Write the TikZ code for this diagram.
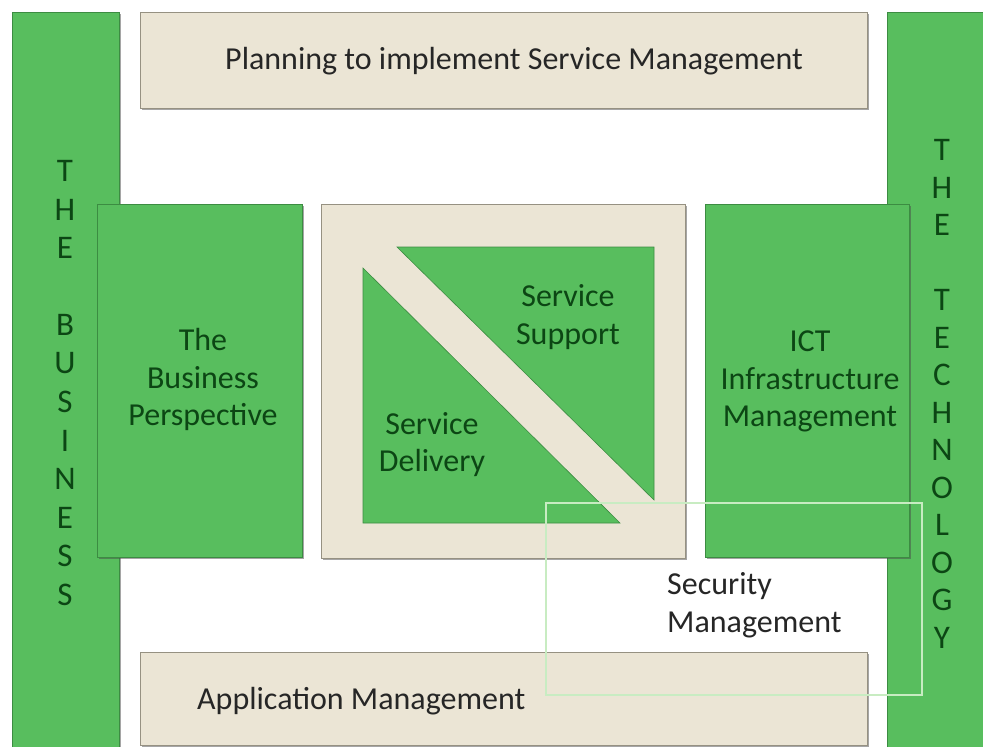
\documentclass[tikz,border=0pt]{standalone}
\usepackage{fontspec}
\setmainfont{Carlito}
\usetikzlibrary{shadows}
\definecolor{grn}{RGB}{88,190,94}
\definecolor{grnedge}{RGB}{60,140,66}
\definecolor{beige}{RGB}{235,229,213}
\definecolor{beigeedge}{RGB}{150,145,130}
\definecolor{dgreen}{RGB}{12,70,20}
\definecolor{dtext}{RGB}{38,38,38}
\definecolor{secline}{RGB}{200,236,194}
\tikzset{
  panel/.style={anchor=north west, inner sep=0pt, line width=0.8pt,
    drop shadow={shadow xshift=2pt, shadow yshift=-2pt, opacity=0.5, fill=black!70}},
  gbox/.style={panel, fill=grn, draw=grnedge},
  bbox/.style={panel, fill=beige, draw=beigeedge},
  tri/.style={fill=grn, draw=grnedge, line width=0.6pt},
  gtext/.style={text=dgreen, inner sep=0pt, align=center, font=\fontsize{32}{37.5}\selectfont},
  btext/.style={text=dtext, inner sep=0pt, font=\fontsize{32}{38}\selectfont},
  letter/.style={text=dgreen, inner sep=0pt, font=\fontsize{33}{38}\selectfont},
  secbox/.style={draw=secline, line width=2.6pt}
}
\begin{document}
\begin{tikzpicture}[x=1pt, y=-1pt]
\useasboundingbox[fill=white] (0,0) rectangle (983,747);
% outer bars and bands
\node[gbox, minimum width=107, minimum height=740] (lbar) at (12,12) {};
\node[gbox, minimum width=100, minimum height=740] (rbar) at (887,12) {};
\node[bbox, minimum width=727, minimum height=96] (plan) at (140,12) {};
\node[bbox, minimum width=727, minimum height=93] (app) at (140,652) {};
% middle row
\node[gbox, minimum width=205, minimum height=353] (bp) at (97,204) {};
\node[bbox, minimum width=364, minimum height=354] (core) at (321,204) {};
\node[gbox, minimum width=204, minimum height=353] (ict) at (705,204) {};
% triangles
\draw[tri] (397,247) coordinate (ssa) -- (654,247) coordinate (ssb) -- (654,500) coordinate (ssc) -- cycle;
\draw[tri] (363,268) coordinate (sda) -- (363,523) coordinate (sdb) -- (620,523) coordinate (sdc) -- cycle;
% security management outline
\draw[secbox] (546,503) coordinate (seca) rectangle (922,695) coordinate (secb);
% texts
\node[btext] (plant) at (514,61) {Planning to implement Service Management};
\node[btext, anchor=west] (appt) at (197,701) {Application Management};
\node[gtext] (bpt) at (203,379.5) {The\\Business\\Perspective};
\node[gtext] (ictt) at (810,381.5) {ICT\\Infrastructure\\Management};
\node[gtext] (sst) at (568,317) {Service\\Support};
\node[gtext] (sdt) at (432,444.5) {Service\\Delivery};
\node[btext, align=left, anchor=west] (sect) at (667,605.5) {Security\\Management};
% vertical letters
\foreach \ch [count=\i] in {T,H,E,{},B,U,S,I,N,E,S,S}
  \node[letter] (bl\i) at (65,{171+(\i-1)*38.5}) {\ch};
\foreach \ch [count=\i] in {T,H,E,{},T,E,C,H,N,O,L,O,G,Y}
  \node[letter] (tl\i) at (942,{150+(\i-1)*37.5}) {\ch};
\end{tikzpicture}
\end{document}
